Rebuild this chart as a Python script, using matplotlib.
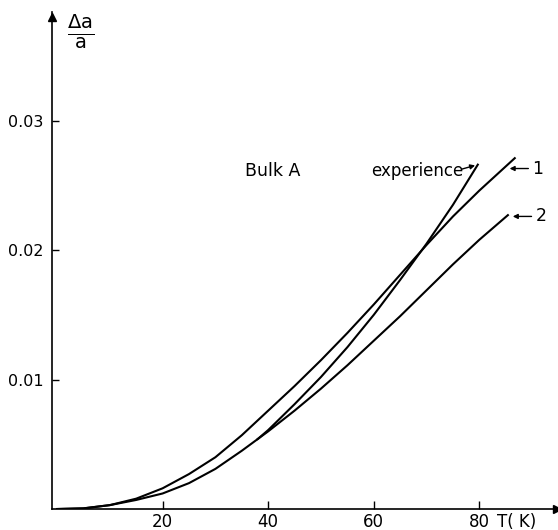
import numpy as np
import matplotlib
matplotlib.use("Agg")
import matplotlib.pyplot as plt

# curve 1 (calculated)
T1 = [0, 5, 10, 15, 20, 25, 30, 35, 40, 45, 50, 55, 60, 65, 70, 75, 80, 86.7]
d1 = [0, 0.00005, 0.0003, 0.0008, 0.0016, 0.0027, 0.0040, 0.0057, 0.0076, 0.0095,
      0.0115, 0.0136, 0.0158, 0.0181, 0.0204, 0.0226, 0.0246, 0.0271]

# curve 2 (calculated)
T2 = [0, 5, 10, 15, 20, 25, 30, 35, 40, 45, 50, 55, 60, 65, 70, 75, 80, 85.4]
d2 = [0, 0.00005, 0.0003, 0.0007, 0.0012, 0.0020, 0.0031, 0.0045, 0.0060, 0.0076,
      0.0093, 0.0111, 0.0130, 0.0149, 0.0169, 0.0189, 0.0208, 0.0227]

# experience
Te = [38, 40, 45, 50, 55, 60, 65, 70, 75, 79.7]
de = [0.0054, 0.0061, 0.0081, 0.0102, 0.0125, 0.0150, 0.0177, 0.0205, 0.0235, 0.0266]

yticks = [0.01, 0.02, 0.03]
ytick_labels = ['0.01', '0.02', '0.03']
xticks = [20, 40, 60, 80]

plt.rcParams['font.family'] = ['DejaVu Sans']

fig = plt.figure(figsize=(5.58, 5.30), dpi=100)
ax = fig.add_axes([0.0932, 0.0396, 0.905, 0.938])

lw = 1.5
ax.plot(T1, d1, color='black', lw=lw, solid_joinstyle='round')
ax.plot(T2, d2, color='black', lw=lw, solid_joinstyle='round')
ax.plot(Te, de, color='black', lw=lw, solid_joinstyle='round')

ax.set_xlim(-0.95, 94.7)
ax.set_ylim(0, 0.0384)

for s in ['top', 'right']:
    ax.spines[s].set_visible(False)
for s in ['left', 'bottom']:
    ax.spines[s].set_linewidth(1.2)

# axis arrows
ax.plot(1, 0, '>k', transform=ax.transAxes, clip_on=False, ms=6)
ax.plot(0, 0.99, '^k', transform=ax.transAxes, clip_on=False, ms=6)

ax.set_xticks(xticks)
ax.set_xticklabels([str(t) for t in xticks], fontsize=12)
ax.set_yticks(yticks)
ax.set_yticklabels(ytick_labels, fontsize=11.5)
ax.tick_params(axis='x', direction='in', length=6, width=1, pad=3)
ax.tick_params(axis='y', direction='in', length=5, width=1, pad=6)

ax.annotate('T( K)', xy=(87, 0), xycoords='data', xytext=(0, -3),
            textcoords='offset points', fontsize=12, ha='center', va='top')

# y label as a fraction
ax.text(4.4, 0.0369, r'$\frac{\mathrm{\Delta a}}{\mathrm{a}}$', fontsize=20,
        ha='center', va='center')

ax.text(40.9, 0.0261, 'Bulk A', fontsize=12.5, ha='center', va='center')
ax.text(68.2, 0.0261, 'experience', fontsize=12, ha='center', va='center')
ax.annotate('', xy=(79.7, 0.0266), xytext=(76.2, 0.0262),
            arrowprops=dict(arrowstyle='-|>', color='black', lw=1, mutation_scale=7))
ax.text(90.0, 0.0263, '1', fontsize=12.5, ha='left', va='center')
ax.annotate('', xy=(85.2, 0.0263), xytext=(89.8, 0.0263),
            arrowprops=dict(arrowstyle='-|>', color='black', lw=1, mutation_scale=7))
ax.text(90.6, 0.0226, '2', fontsize=12.5, ha='left', va='center')
ax.annotate('', xy=(85.8, 0.0226), xytext=(90.4, 0.0226),
            arrowprops=dict(arrowstyle='-|>', color='black', lw=1, mutation_scale=7))

fig.savefig('out.png', dpi=100)
